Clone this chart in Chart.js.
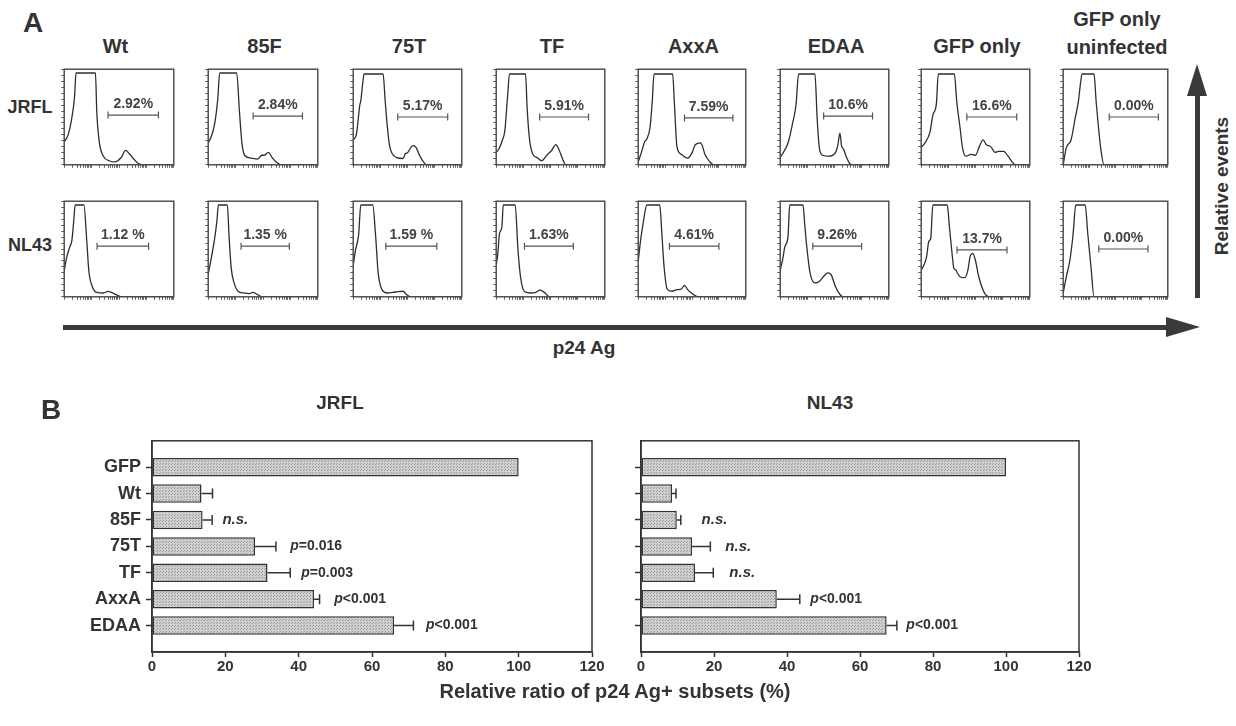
<!DOCTYPE html>
<html>
<head>
<meta charset="utf-8">
<script src="https://cdn.jsdelivr.net/npm/chart.js@4.4.1/dist/chart.umd.min.js"></script>
<style>
  body { margin: 0; background: #fff; }
  #fig { position: relative; width: 1236px; height: 726px; overflow: hidden;
         font-family: "Liberation Sans", Arial, sans-serif; font-weight: bold; color: #333; }
  .t { position: absolute; white-space: nowrap; transform: translate(-50%, -50%); }
  canvas { position: absolute; }
  .blk { position: absolute; background: #3a3a3a; }
  .tri { position: absolute; width: 0; height: 0; }
</style>
</head>
<body>
<div id="fig"></div>
<script>
// ---------- panel A : flow histograms (x = log decade 0..4, y = % of max) ----------
const strains = ['Wt', '85F', '75T', 'TF', 'AxxA', 'EDAA', 'GFP only', 'uninfected'];
const viruses = ['JRFL', 'NL43'];

const jrflWt   = [[0,24],[0.14,31],[0.26,46],[0.38,72],[0.43,96],[1.14,96],[1.19,55],[1.28,24],[1.43,9],[1.66,4],[1.84,3],[2.08,7.6],[2.24,15],[2.38,11.5],[2.54,6],[2.72,1],[2.96,0],[4,0]];
const jrfl85F  = [[0,23],[0.09,28],[0.23,42],[0.35,69],[0.42,96],[1.04,96],[1.14,56],[1.23,23],[1.33,10],[1.56,7],[1.8,6],[1.96,10],[2.04,10],[2.2,13],[2.32,8],[2.48,3],[2.68,0],[4,0]];
const jrfl75T  = [[0,26],[0.12,32],[0.24,62],[0.28,67],[0.35,85],[0.4,95],[1.1,95],[1.18,66],[1.26,39],[1.34,20],[1.44,11.5],[1.6,7.5],[1.84,6.6],[1.92,11.5],[2.0,12.5],[2.12,18],[2.2,20],[2.32,18],[2.44,10],[2.6,2.6],[2.72,0],[4,0]];
const jrflTF   = [[0,13],[0.09,16],[0.23,26],[0.32,36],[0.42,72],[0.49,95],[1.08,95],[1.14,59],[1.23,26],[1.34,11.5],[1.51,7.5],[1.68,4.3],[1.86,10],[2.04,15],[2.2,21],[2.31,16],[2.44,6.6],[2.56,0],[4,0]];
const jrflAxxA = [[0,3],[0.12,13],[0.24,24],[0.32,27],[0.44,39],[0.52,65],[0.59,95],[1.28,95],[1.35,62],[1.44,19],[1.6,11],[1.84,7],[2.0,12.5],[2.12,21],[2.32,23],[2.4,18.5],[2.48,11],[2.68,2.6],[2.8,0],[4,0]];
const jrflEDAA = [[0,8],[0.12,13],[0.29,23],[0.46,44],[0.58,62],[0.68,95],[1.28,95],[1.36,49],[1.44,18],[1.56,10],[1.8,9],[2.04,13],[2.12,20],[2.2,33],[2.26,20],[2.34,16],[2.44,8],[2.58,0.7],[2.72,0],[4,0]];
const jrflGFP  = [[0,18],[0.14,23],[0.32,34],[0.43,52],[0.56,64],[0.63,95],[1.22,95],[1.31,66],[1.43,39],[1.52,18],[1.64,9],[1.84,11],[2.0,10],[2.14,19],[2.28,26],[2.4,21],[2.56,19],[2.72,13],[2.85,14],[3.04,14],[3.2,9],[3.36,2.6],[3.48,0],[4,0]];
const jrflUninf = [[0,0],[0.12,18],[0.3,26],[0.46,49],[0.58,66],[0.66,85],[0.72,95],[1.18,95],[1.26,66],[1.35,39],[1.44,16],[1.56,0],[4,0]];

const nl43Wt   = [[0,27],[0.08,40],[0.2,52],[0.28,59],[0.35,80],[0.4,96],[0.72,96],[0.82,60],[0.9,27],[1.02,11],[1.16,5],[1.43,4],[1.6,5.6],[1.76,4],[1.96,1.3],[2.12,0],[4,0]];
const nl4385F  = [[0,24],[0.09,37],[0.23,60],[0.32,80],[0.37,96],[0.7,96],[0.76,64],[0.84,30],[0.95,14],[1.1,5.6],[1.28,4],[1.51,3.3],[1.62,4.6],[1.8,2.3],[1.96,0],[4,0]];
const nl4375T  = [[0,33],[0.08,48],[0.2,65],[0.28,96],[0.72,96],[0.82,66],[0.92,25],[1.06,7.5],[1.26,4],[1.56,5],[1.84,5.8],[1.96,2.4],[2.14,0],[4,0]];
const nl43TF   = [[0,33],[0.06,45],[0.12,66],[0.21,73],[0.26,96],[0.7,96],[0.8,50],[0.9,20],[1.04,5.6],[1.28,4],[1.46,4.6],[1.62,7],[1.8,4],[1.96,0],[4,0]];
const nl43AxxA = [[0,37],[0.08,57],[0.2,80],[0.32,96],[0.8,96],[0.88,66],[0.96,32],[1.08,8],[1.26,5.8],[1.44,7.5],[1.6,8],[1.72,12],[1.84,7.5],[2.0,3.4],[2.24,0],[4,0]];
const nl43EDAA = [[0,28],[0.09,39],[0.17,52],[0.29,64],[0.35,96],[0.84,96],[0.9,77],[0.98,52],[1.1,25],[1.28,14.5],[1.44,16],[1.62,22],[1.76,25],[1.88,23],[2.03,11],[2.2,2.4],[2.32,0],[4,0]];
const nl43GFP  = [[0,28],[0.08,32],[0.2,42],[0.28,58],[0.35,61],[0.43,96],[0.96,96],[1.04,73],[1.16,39],[1.2,30],[1.28,28],[1.33,25],[1.43,21],[1.6,20],[1.72,28],[1.8,42],[1.9,45.5],[1.99,39],[2.12,21],[2.27,7.6],[2.4,1.4],[2.6,0],[4,0]];
const nl43Uninf = [[0,4],[0.12,21],[0.26,39],[0.38,66],[0.48,96],[0.84,96],[0.94,66],[1.06,32],[1.18,0],[4,0]];

// gate: [start decade, end decade, height]
const jrflGates = [[1.6,3.44,52],[1.64,3.44,51],[1.64,3.48,50],[1.6,3.4,50],[1.72,3.52,49],[1.6,3.4,51],[1.68,3.52,50],[1.76,3.64,50]];
const nl43Gates = [[1.2,3.08,53],[1.2,2.96,53],[1.2,3.08,53],[1.04,2.84,53],[1.16,3.0,53],[1.2,3.0,53],[1.32,3.16,49],[1.36,3.24,50]];
const jrflPct = ['2.92%', '2.84%', '5.17%', '5.91%', '7.59%', '10.6%', '16.6%', '0.00%'];
const nl43Pct = ['1.12 %', '1.35 %', '1.59 %', '1.63%', '4.61%', '9.26%', '13.7%', '0.00%'];

const jrflCurves = [jrflWt, jrfl85F, jrfl75T, jrflTF, jrflAxxA, jrflEDAA, jrflGFP, jrflUninf];
const nl43Curves = [nl43Wt, nl4385F, nl4375T, nl43TF, nl43AxxA, nl43EDAA, nl43GFP, nl43Uninf];

// ---------- panel B : relative ratio bars ----------
const barLabels = ['GFP', 'Wt', '85F', '75T', 'TF', 'AxxA', 'EDAA'];
const jrflRatio = [100, 13.5, 13.8, 28.1, 31.5, 44.2, 66.0];
const jrflErr   = [0, 3.0, 2.6, 5.7, 6.2, 1.5, 5.3];
const jrflNote  = ['', '', 'n.s.', 'p=0.016', 'p=0.003', 'p<0.001', 'p<0.001'];
const jrflNoteX = [null, null, 19.2, 37.7, 40.7, 49.7, 74.7];
const nl43Ratio = [100, 8.5, 9.8, 14.0, 14.8, 37.2, 67.3];
const nl43Err   = [0, 1.1, 1.1, 5.0, 5.0, 6.3, 2.8];
const nl43Note  = ['', '', 'n.s.', 'n.s.', 'n.s.', 'p<0.001', 'p<0.001'];
const nl43NoteX = [null, null, 16.6, 23.1, 24.2, 46.4, 72.7];
const ratioTicks = [0, 20, 40, 60, 80, 100, 120];

Chart.defaults.font.family = '"Liberation Sans", Arial, sans-serif';
Chart.defaults.color = '#333';
const FONT = '"Liberation Sans", Arial, sans-serif';
const fig = document.getElementById('fig');

function addText(txt, x, y, size, extra) {
  const d = document.createElement('div');
  d.className = 't';
  d.textContent = txt;
  d.style.left = x + 'px';
  d.style.top = y + 'px';
  d.style.fontSize = size + 'px';
  if (extra) d.style.transform = 'translate(-50%, -50%) ' + extra;
  fig.appendChild(d);
}
function addBlock(l, t, w, h) {
  const d = document.createElement('div');
  d.className = 'blk';
  Object.assign(d.style, { left: l + 'px', top: t + 'px', width: w + 'px', height: h + 'px' });
  fig.appendChild(d);
}
function addCanvas(l, t, w, h) {
  const cv = document.createElement('canvas');
  cv.width = w; cv.height = h;
  Object.assign(cv.style, { left: l + 'px', top: t + 'px', width: w + 'px', height: h + 'px' });
  fig.appendChild(cv);
  return cv;
}

// box around the plot area
const framePlugin = {
  id: 'frame',
  afterDatasetsDraw(chart, args, opts) {
    const { ctx, chartArea: a } = chart;
    ctx.save();
    ctx.strokeStyle = opts.color || '#444';
    ctx.lineWidth = opts.width || 1.5;
    ctx.strokeRect(a.left, a.top, a.right - a.left, a.bottom - a.top);
    ctx.restore();
  }
};

// % label above the gate bar
const gateLabelPlugin = {
  id: 'gateLabel',
  afterDatasetsDraw(chart, args, opts) {
    const pts = chart.getDatasetMeta(1).data;
    const ctx = chart.ctx;
    ctx.save();
    ctx.font = 'bold 14px ' + FONT;
    ctx.fillStyle = '#444';
    ctx.textAlign = 'center';
    ctx.textBaseline = 'bottom';
    ctx.fillText(opts.text, (pts[0].x + pts[1].x) / 2, pts[0].y - 4);
    ctx.restore();
  }
};

function logTicks() {
  const t = [];
  for (let e = 0; e < 4; e++) for (let k = 1; k < 10; k++) t.push({ value: k * Math.pow(10, e) });
  t.push({ value: 10000 });
  return t;
}

// layout of the histogram boxes
const boxLeft = [63, 207, 352, 495, 637, 779, 920, 1062];
const boxWidth = [115, 115, 114, 114, 113, 114, 114, 110];
const rowTop = [65, 197];
const boxH = 101;

function makeHist(col, row, curve, gate, pct) {
  const w = boxWidth[col];
  const cv = addCanvas(boxLeft[col] - 4, rowTop[row] - 1, w + 5, boxH + 5);
  new Chart(cv, {
    type: 'line',
    data: {
      datasets: [
        {
          data: curve.map(p => ({ x: Math.pow(10, p[0]), y: p[1] })),
          borderColor: '#2e2e2e', borderWidth: 1.3, pointRadius: 0,
          cubicInterpolationMode: 'monotone'
        },
        {
          data: [{ x: Math.pow(10, gate[0]), y: gate[2] }, { x: Math.pow(10, gate[1]), y: gate[2] }],
          borderColor: '#555', borderWidth: 1.2,
          pointStyle: 'line', rotation: 90, pointRadius: 3.5,
          pointBorderColor: '#555', pointBorderWidth: 1.2
        }
      ]
    },
    options: {
      responsive: false, animation: false, devicePixelRatio: 1,
      layout: { padding: { top: 1, right: 1, left: 0, bottom: 0 } },
      plugins: { legend: { display: false }, tooltip: { enabled: false }, gateLabel: { text: pct }, frame: { color: '#444', width: 1.4 } },
      scales: {
        x: {
          type: 'logarithmic', min: 1, max: 10000,
          ticks: { display: false },
          grid: { drawOnChartArea: false, tickLength: 3, tickColor: '#666' },
          border: { display: false },
          afterBuildTicks: s => { s.ticks = logTicks(); },
          afterFit: s => { s.height = 4; }
        },
        y: {
          min: 0, max: 100,
          ticks: { display: false, stepSize: 6.25 },
          grid: { drawOnChartArea: false, tickLength: 3, tickColor: '#666' },
          border: { display: false },
          afterFit: s => { s.width = 4; }
        }
      }
    },
    plugins: [framePlugin, gateLabelPlugin]
  });
}

jrflCurves.forEach((c, i) => makeHist(i, 0, c, jrflGates[i], jrflPct[i]));
nl43Curves.forEach((c, i) => makeHist(i, 1, c, nl43Gates[i], nl43Pct[i]));

// titles for panel A
addText('A', 33, 23, 28);
strains.forEach((s, i) => {
  const cx = boxLeft[i] + boxWidth[i] / 2 - (i === 0 ? 5 : 0);
  if (s === 'uninfected') {
    addText('GFP only', cx, 19, 20);
    addText('uninfected', cx, 47, 20);
  } else {
    addText(s, cx, 46, 20);
  }
});
addText(viruses[0], 30, 107, 18);
addText(viruses[1], 30, 245, 18);

// arrows
addBlock(63, 325, 1104, 5);
const ah = document.createElement('div');
ah.className = 'tri';
Object.assign(ah.style, { left: '1166px', top: '317px', borderLeft: '34px solid #3a3a3a', borderTop: '10px solid transparent', borderBottom: '10px solid transparent' });
fig.appendChild(ah);
addText('p24 Ag', 584, 348, 19);
addBlock(1195, 95, 5, 203);
const av = document.createElement('div');
av.className = 'tri';
Object.assign(av.style, { left: '1187px', top: '64px', borderBottom: '32px solid #3a3a3a', borderLeft: '10.5px solid transparent', borderRight: '10.5px solid transparent' });
fig.appendChild(av);
addText('Relative events', 1222, 186, 19, 'rotate(-90deg)');

// ---------- panel B charts ----------
function stipple(ctx) {
  const p = document.createElement('canvas');
  p.width = 3; p.height = 3;
  const c = p.getContext('2d');
  c.fillStyle = '#cfcfcf';
  c.fillRect(0, 0, 3, 3);
  c.fillStyle = '#9c9c9c';
  c.fillRect(0, 0, 1, 1);
  c.fillRect(1, 2, 1, 1);
  return ctx.createPattern(p, 'repeat');
}

const errorBarPlugin = {
  id: 'errBars',
  afterDatasetsDraw(chart, args, opts) {
    const ctx = chart.ctx;
    const xs = chart.scales.x;
    const vals = chart.data.datasets[0].data;
    ctx.save();
    ctx.strokeStyle = '#333';
    ctx.lineWidth = 1.5;
    chart.getDatasetMeta(0).data.forEach((el, i) => {
      const e = opts.err[i - 1];
      if (vals[i] == null || !e) return;
      const x1 = xs.getPixelForValue(vals[i] + e);
      ctx.beginPath();
      ctx.moveTo(el.x, el.y); ctx.lineTo(x1, el.y);
      ctx.moveTo(x1, el.y - 5); ctx.lineTo(x1, el.y + 5);
      ctx.stroke();
    });
    ctx.restore();
  }
};

const notePlugin = {
  id: 'notes',
  afterDatasetsDraw(chart, args, opts) {
    const ctx = chart.ctx;
    const xs = chart.scales.x;
    ctx.save();
    ctx.fillStyle = '#333';
    ctx.textBaseline = 'middle';
    ctx.textAlign = 'left';
    chart.getDatasetMeta(0).data.forEach((el, i) => {
      const txt = opts.text[i - 1];
      if (!txt) return;
      const x = xs.getPixelForValue(opts.x[i - 1]);
      if (txt[0] === 'p') {
        ctx.font = 'italic bold 14px ' + FONT;
        ctx.fillText('p', x, el.y);
        const w = ctx.measureText('p').width;
        ctx.font = 'bold 14px ' + FONT;
        ctx.fillText(txt.slice(1), x + w, el.y);
      } else {
        ctx.font = 'italic bold 15px ' + FONT;
        ctx.fillText(txt, x, el.y);
      }
    });
    ctx.restore();
  }
};

function makeBars(left, width, yAxisW, showLabels, vals, err, notes, noteX) {
  const cv = addCanvas(left, 425, width, 255);
  const labels = [''].concat(barLabels, ['']);
  new Chart(cv, {
    type: 'bar',
    data: {
      labels: labels,
      datasets: [{
        data: [null].concat(vals, [null]),
        backgroundColor: stipple(cv.getContext('2d')),
        borderColor: '#333', borderWidth: 1.5, borderSkipped: false,
        categoryPercentage: 1, barPercentage: 0.7
      }]
    },
    options: {
      indexAxis: 'y', responsive: false, animation: false, devicePixelRatio: 1,
      layout: { padding: { top: 12, right: 18, left: 0, bottom: 0 } },
      plugins: {
        legend: { display: false }, tooltip: { enabled: false },
        frame: { color: '#333', width: 1.5 },
        errBars: { err: err },
        notes: { text: notes, x: noteX }
      },
      scales: {
        x: {
          min: 0, max: 120,
          afterBuildTicks: s => { s.ticks = ratioTicks.map(v => ({ value: v })); },
          ticks: { color: '#333', font: { size: 15, weight: 'bold' }, padding: 1 },
          grid: { drawOnChartArea: false, tickLength: 5, tickColor: '#333', tickWidth: 1.5 },
          border: { color: '#333', width: 1.5 },
          afterFit: s => { s.height = 28; }
        },
        y: {
          offset: false,
          ticks: {
            color: '#333', font: { size: 18, weight: 'bold' }, padding: 5,
            callback: function (v) { return showLabels ? this.getLabelForValue(v) : ''; }
          },
          grid: {
            offset: false, drawOnChartArea: false, tickLength: 6, tickWidth: 1.5,
            tickColor: c => (c.index === 0 || c.index === labels.length - 1) ? 'rgba(0,0,0,0)' : '#333'
          },
          border: { color: '#333', width: 1.5 },
          afterFit: s => { s.width = yAxisW; }
        }
      }
    },
    plugins: [framePlugin, errorBarPlugin, notePlugin]
  });
}

makeBars(60, 550, 92, true, jrflRatio, jrflErr, jrflNote, jrflNoteX);
makeBars(620, 477, 21, false, nl43Ratio, nl43Err, nl43Note, nl43NoteX);

addText('B', 51, 410, 28);
addText('JRFL', 340, 403, 19);
addText('NL43', 830, 403, 19);
addText('Relative ratio of p24 Ag+ subsets (%)', 615, 691, 20);
</script>
</body>
</html>
